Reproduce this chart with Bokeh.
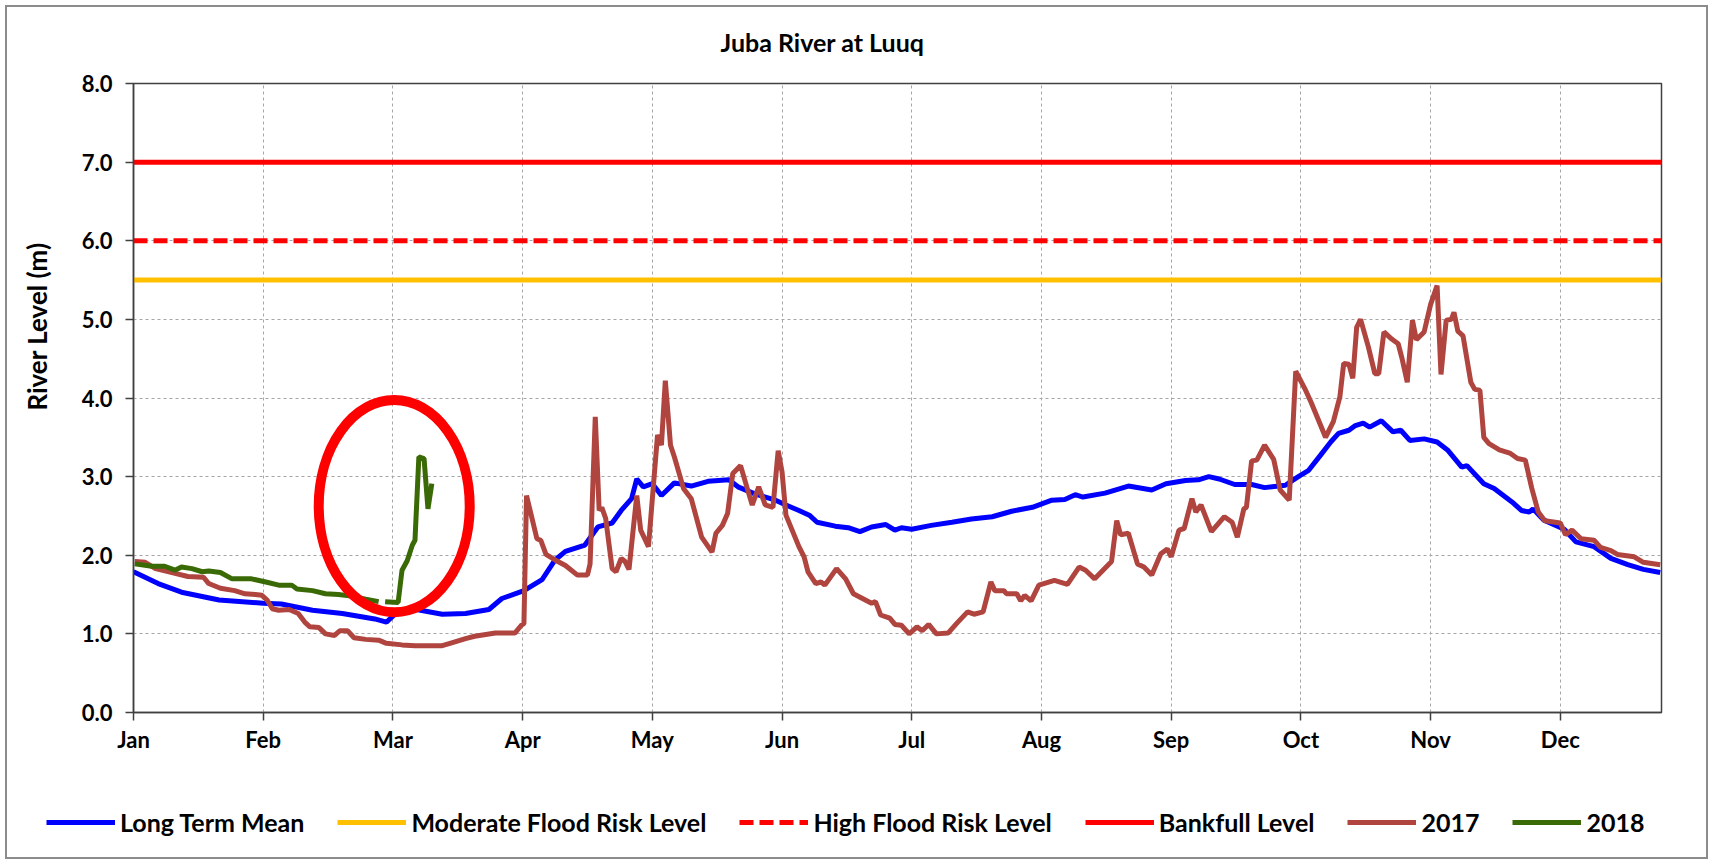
import math
from bokeh.plotting import figure
from bokeh.layouts import column, row
from bokeh.models import Range1d, FixedTicker, Legend, LegendItem, Label, NumeralTickFormatter
from bokeh.embed import file_html
from bokeh.resources import INLINE

# ---------------- data ----------------
MONTHS = ["Jan", "Feb", "Mar", "Apr", "May", "Jun", "Jul", "Aug", "Sep", "Oct", "Nov", "Dec"]
MONTH_TICKS = list(range(12))
Y_TICKS = list(range(9))
X_END = 11.78          # axis ends a little before the end of December
Y_MAX = 8.0

MODERATE_LEVEL = 5.5
HIGH_LEVEL = 6.0
BANKFULL_LEVEL = 7.0

# x is in months since 1 Jan (0 = Jan, 1 = Feb, ...)
ltm_x = [0.00, 0.19, 0.37, 0.66, 1.00, 1.14, 1.38, 1.61, 1.86, 1.95, 2.01, 2.15, 2.38, 2.56, 2.74, 2.84,
         3.01, 3.15, 3.25, 3.33, 3.48, 3.58, 3.69, 3.76, 3.84, 3.88, 3.93, 4.00, 4.07, 4.17, 4.30, 4.43,
         4.59, 4.66, 4.79, 4.95, 5.03, 5.13, 5.21, 5.27, 5.41, 5.51, 5.60, 5.69, 5.80, 5.87, 5.92, 6.00,
         6.15, 6.31, 6.46, 6.62, 6.77, 6.93, 7.08, 7.18, 7.26, 7.32, 7.49, 7.67, 7.85, 7.96, 8.11, 8.21,
         8.29, 8.37, 8.49, 8.62, 8.72, 8.88, 8.98, 9.06, 9.15, 9.23, 9.29, 9.37, 9.42, 9.48, 9.53, 9.62,
         9.71, 9.77, 9.84, 9.95, 10.05, 10.13, 10.24, 10.28, 10.41, 10.49, 10.64, 10.70, 10.76, 10.79,
         10.87, 11.03, 11.12, 11.26, 11.39, 11.52, 11.64, 11.77]
ltm_y = [1.79, 1.64, 1.53, 1.43, 1.39, 1.38, 1.30, 1.26, 1.19, 1.15, 1.24, 1.32, 1.25, 1.26, 1.31, 1.45,
         1.55, 1.69, 1.94, 2.05, 2.13, 2.36, 2.41, 2.57, 2.72, 2.97, 2.87, 2.91, 2.76, 2.92, 2.88, 2.94,
         2.96, 2.87, 2.78, 2.70, 2.64, 2.57, 2.51, 2.42, 2.37, 2.35, 2.30, 2.36, 2.39, 2.32, 2.35, 2.33,
         2.38, 2.42, 2.46, 2.49, 2.56, 2.61, 2.70, 2.71, 2.77, 2.74, 2.79, 2.88, 2.83, 2.91, 2.95, 2.96,
         3.00, 2.97, 2.90, 2.90, 2.86, 2.89, 3.00, 3.08, 3.27, 3.44, 3.55, 3.59, 3.65, 3.68, 3.63, 3.71,
         3.57, 3.59, 3.46, 3.48, 3.44, 3.34, 3.12, 3.14, 2.91, 2.85, 2.66, 2.57, 2.55, 2.59,
         2.45, 2.33, 2.17, 2.11, 1.96, 1.88, 1.82, 1.78]

y2017_x = [0.01, 0.09, 0.17, 0.32, 0.42, 0.54, 0.58, 0.67, 0.78, 0.86, 0.94, 0.99, 1.03, 1.07, 1.12, 1.20,
           1.27, 1.32, 1.36, 1.43, 1.48, 1.55, 1.59, 1.65, 1.70, 1.79, 1.89, 1.95, 2.07, 2.17, 2.38, 2.44,
           2.56, 2.63, 2.79, 2.94, 2.99, 3.01, 3.03, 3.11, 3.14, 3.18, 3.25, 3.33, 3.42, 3.50, 3.52, 3.56,
           3.59, 3.61, 3.64, 3.69, 3.72, 3.76, 3.79, 3.82, 3.88, 3.91, 3.97, 4.04, 4.07, 4.10, 4.14, 4.17,
           4.24, 4.30, 4.38, 4.46, 4.49, 4.54, 4.58, 4.62, 4.68, 4.73, 4.77, 4.82, 4.87, 4.93, 4.97, 5.00,
           5.03, 5.13, 5.17, 5.20, 5.26, 5.30, 5.33, 5.42, 5.49, 5.55, 5.62, 5.69, 5.72, 5.76, 5.83, 5.87,
           5.92, 5.98, 6.04, 6.08, 6.13, 6.19, 6.28, 6.35, 6.43, 6.48, 6.55, 6.61, 6.64, 6.71, 6.73, 6.81,
           6.84, 6.87, 6.92, 6.98, 7.10, 7.20, 7.29, 7.34, 7.41, 7.54, 7.58, 7.61, 7.67, 7.74, 7.79, 7.85,
           7.92, 7.97, 8.00, 8.06, 8.10, 8.16, 8.19, 8.23, 8.31, 8.41, 8.47, 8.51, 8.56, 8.58, 8.62, 8.66,
           8.72, 8.79, 8.84, 8.91, 8.96, 9.03, 9.08, 9.19, 9.25, 9.30, 9.33, 9.37, 9.40, 9.43, 9.46, 9.52,
           9.57, 9.60, 9.64, 9.70, 9.75, 9.78, 9.82, 9.86, 9.89, 9.95, 10.00, 10.05, 10.08, 10.12, 10.16,
           10.18, 10.21, 10.25, 10.31, 10.34, 10.38, 10.41, 10.45, 10.53, 10.61, 10.67, 10.73, 10.78, 10.83,
           10.88, 11.00, 11.04, 11.09, 11.16, 11.26, 11.31, 11.39, 11.44, 11.57, 11.64, 11.77]
y2017_y = [1.92, 1.91, 1.83, 1.77, 1.73, 1.72, 1.64, 1.58, 1.55, 1.51, 1.50, 1.49, 1.43, 1.32, 1.30, 1.31,
           1.26, 1.15, 1.09, 1.08, 1.00, 0.98, 1.04, 1.04, 0.95, 0.93, 0.92, 0.88, 0.86, 0.85, 0.85, 0.88,
           0.94, 0.97, 1.01, 1.01, 1.11, 1.13, 2.76, 2.21, 2.19, 2.01, 1.94, 1.87, 1.75, 1.75, 1.89, 3.76,
           2.57, 2.61, 2.47, 1.83, 1.79, 1.96, 1.92, 1.82, 2.76, 2.32, 2.11, 3.53, 3.40, 4.22, 3.40, 3.25,
           2.85, 2.72, 2.23, 2.04, 2.28, 2.38, 2.53, 3.04, 3.14, 2.86, 2.64, 2.87, 2.64, 2.61, 3.33, 3.06,
           2.51, 2.11, 1.98, 1.79, 1.64, 1.66, 1.62, 1.83, 1.70, 1.51, 1.45, 1.39, 1.41, 1.24, 1.20, 1.12,
           1.11, 1.00, 1.09, 1.04, 1.12, 1.00, 1.01, 1.14, 1.28, 1.25, 1.28, 1.66, 1.55, 1.55, 1.51, 1.51,
           1.42, 1.49, 1.42, 1.62, 1.68, 1.63, 1.85, 1.81, 1.70, 1.92, 2.44, 2.26, 2.28, 1.89, 1.85, 1.75,
           2.02, 2.08, 1.98, 2.32, 2.34, 2.72, 2.55, 2.64, 2.30, 2.49, 2.42, 2.23, 2.59, 2.61, 3.20, 3.21,
           3.40, 3.22, 2.83, 2.70, 4.34, 4.12, 3.94, 3.50, 3.70, 4.01, 4.44, 4.43, 4.25, 4.90, 5.00, 4.65,
           4.31, 4.31, 4.84, 4.75, 4.69, 4.50, 4.20, 4.99, 4.74, 4.84, 5.19, 5.43, 4.30, 4.99, 5.00,
           5.09, 4.85, 4.79, 4.20, 4.11, 4.10, 3.50, 3.42, 3.34, 3.30, 3.23, 3.21, 2.85, 2.55,
           2.44, 2.41, 2.26, 2.32, 2.21, 2.19, 2.10, 2.06, 2.01, 1.98, 1.91, 1.88]

NAN = float("nan")  # gap in the 2018 record
y2018_x = [0.01, 0.14, 0.24, 0.32, 0.37, 0.45, 0.53, 0.58, 0.67, 0.76, 0.91, 1.02, 1.12, 1.22, 1.26, 1.38,
           1.48, 1.58, 1.68, 1.79, 1.89, NAN, 1.94, 2.04, 2.07, 2.11, 2.15, 2.17, 2.20, 2.24, 2.27, 2.30]
y2018_y = [1.89, 1.86, 1.86, 1.81, 1.85, 1.83, 1.79, 1.80, 1.78, 1.70, 1.70, 1.66, 1.62, 1.62, 1.57, 1.55,
           1.51, 1.50, 1.48, 1.44, 1.41, NAN, 1.41, 1.40, 1.81, 1.93, 2.13, 2.19, 3.25, 3.23, 2.59, 2.91]

# highlight ellipse (data units)
HL_X, HL_Y, HL_W, HL_H = 2.01, 2.625, 1.164, 2.70

TITLE = "Juba River at Luuq"
Y_LABEL = "River Level (m)"
LEGEND_LABELS = ["Long Term Mean", "Moderate Flood Risk Level", "High Flood Risk Level",
                 "Bankfull Level", "2017", "2018"]

# ---------------- styles / layout sizes ----------------
FONT = "Lato"
C_LTM = "#0000FF"
C_MOD = "#FFC000"
C_RED = "#FF0000"
C_2017 = "#B0443F"
C_2018 = "#3A6A05"
LW = 5
W = 1699            # full canvas width
TOP_H = 60          # title strip height
LEFT_W = 60         # y-label strip width
MAIN_H = 695        # chart height
LEG_H = 95          # legend strip height

SERIES_STYLE = [
    dict(line_color=C_LTM, line_width=LW),
    dict(line_color=C_MOD, line_width=LW),
    dict(line_color=C_RED, line_width=LW, line_dash="14 6"),
    dict(line_color=C_RED, line_width=LW),
    dict(line_color=C_2017, line_width=LW),
    dict(line_color=C_2018, line_width=LW),
]
SERIES_XY = [
    (ltm_x, ltm_y),
    ([0, X_END], [MODERATE_LEVEL, MODERATE_LEVEL]),
    ([0, X_END], [HIGH_LEVEL, HIGH_LEVEL]),
    ([0, X_END], [BANKFULL_LEVEL, BANKFULL_LEVEL]),
    (y2017_x, y2017_y),
    (y2018_x, y2018_y),
]


def strip(width, height, xr, yr):
    f = figure(width=width, height=height, x_range=xr, y_range=yr, x_axis_type=None, y_axis_type=None,
               output_backend="svg", toolbar_location=None, min_border=0, min_border_left=0,
               min_border_right=0, min_border_top=0, min_border_bottom=0)
    f.outline_line_color = None
    f.background_fill_color = "white"
    f.border_fill_color = "white"
    return f


# ---------------- title strip ----------------
tp = strip(W, TOP_H, Range1d(0, W), Range1d(0, TOP_H))
tp.add_layout(Label(x=815, y=TOP_H - 34, text=TITLE, text_font=FONT, text_font_style="bold",
                    text_font_size="25px", text_align="center", text_baseline="middle",
                    text_color="black"))

# ---------------- y-label strip ----------------
ls = strip(LEFT_W, MAIN_H, Range1d(0, LEFT_W), Range1d(0, MAIN_H))
ls.add_layout(Label(x=29.5, y=MAIN_H - (319 - TOP_H), text=Y_LABEL, angle=math.pi / 2, text_font=FONT,
                    text_font_style="bold", text_font_size="26px", text_align="center",
                    text_baseline="middle", text_color="black"))

# ---------------- main chart ----------------
p = figure(width=W - LEFT_W, height=MAIN_H, x_range=Range1d(0, X_END), y_range=Range1d(0, Y_MAX),
           output_backend="svg", toolbar_location=None,
           min_border_left=126 - LEFT_W, min_border_right=45, min_border_top=76 - TOP_H,
           min_border_bottom=50)
p.background_fill_color = "white"
p.border_fill_color = "white"
p.outline_line_color = "#404040"
p.outline_line_width = 1.5

p.xaxis.ticker = FixedTicker(ticks=MONTH_TICKS)
p.xaxis.major_label_overrides = {t: m for t, m in zip(MONTH_TICKS, MONTHS)}
p.yaxis.ticker = FixedTicker(ticks=Y_TICKS)
p.yaxis.formatter = NumeralTickFormatter(format="0.0")
for ax in (p.xaxis, p.yaxis):
    ax.minor_tick_line_color = None
    ax.major_tick_in = 0
    ax.major_tick_out = 8
    ax.axis_line_color = "#404040"
    ax.axis_line_width = 1.5
    ax.major_tick_line_color = "#404040"
    ax.major_tick_line_width = 1.5
    ax.major_label_text_font = FONT
    ax.major_label_text_font_style = "bold"
    ax.major_label_text_font_size = "22px"
    ax.major_label_text_color = "black"
p.xaxis.major_label_standoff = 5
p.yaxis.major_label_standoff = 13

for g in (p.xgrid, p.ygrid):
    g.grid_line_color = "#A6A6A6"
    g.grid_line_dash = "3 3"
    g.grid_line_width = 1

for (xs, ys), st in zip(SERIES_XY, SERIES_STYLE):
    p.line(xs, ys, **st)

p.ellipse(x=[HL_X], y=[HL_Y], width=[HL_W], height=[HL_H], fill_color=None,
          line_color=C_RED, line_width=10)

# ---------------- legend strip (same series, drawn out of view; only the legend shows) ----------------
lg = strip(W, LEG_H, Range1d(0, X_END), Range1d(100, 101))
items = []
for lab, (xs, ys), st in zip(LEGEND_LABELS, SERIES_XY, SERIES_STYLE):
    r = lg.line(xs, ys, **st)
    items.append(LegendItem(label=lab, renderers=[r]))
legend = Legend(items=items, orientation="horizontal", location=(39, 20), padding=0, margin=0,
                spacing=33, label_standoff=5, glyph_width=69, glyph_height=30, label_text_font=FONT,
                label_text_font_style="bold", label_text_font_size="25px", label_text_color="black",
                background_fill_alpha=0, border_line_color=None)
lg.add_layout(legend, "center")

for fig in (tp, ls, p, lg):
    if "frame_align" in fig.properties():
        fig.frame_align = False

layout = column(tp, row(ls, p, spacing=0), lg, spacing=0)
layout.styles = {"border": "2px solid #8C8C8C", "margin": "5px"}

open("out.html", "w").write(file_html(layout, INLINE))
